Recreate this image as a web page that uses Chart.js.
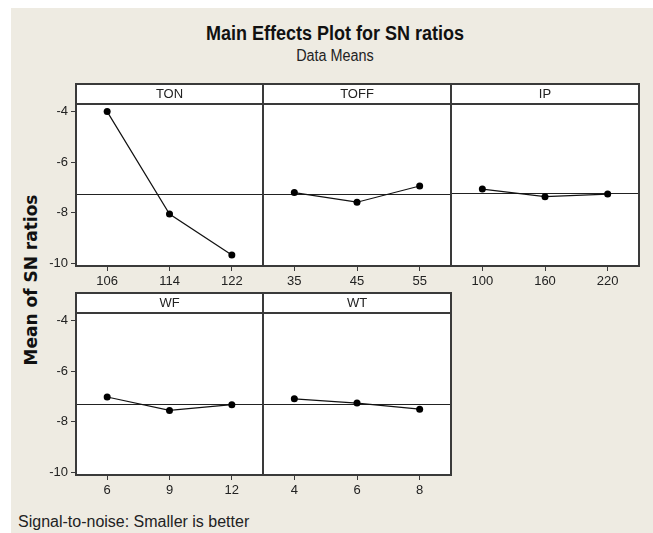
<!DOCTYPE html>
<html><head><meta charset="utf-8">
<script src="https://cdn.jsdelivr.net/npm/chart.js@4.4.1/dist/chart.umd.min.js"></script>
<style>
html,body{margin:0;padding:0;background:#fff;}
#page{position:relative;width:653px;height:533px;overflow:hidden;background:#fff;}
#bg{position:absolute;left:11px;top:8px;right:0;bottom:0;background:#EEEBE2;}
canvas{position:absolute;}
.t{position:absolute;white-space:nowrap;color:#111;font-family:'Liberation Sans',Arial,sans-serif;}
</style></head><body>
<div id="page"><div id="bg"></div>
<div class="t" style="left:135px;width:400px;top:23px;text-align:center;font-size:20px;line-height:20px;font-weight:bold;transform:scaleX(0.9);">Main Effects Plot for SN ratios</div>
<div class="t" style="left:235px;width:200px;top:48px;text-align:center;font-size:16px;line-height:16px;transform:scaleX(0.9);color:#222;">Data Means</div>
<div class="t" style="left:-79px;top:270px;width:220px;height:20px;line-height:20px;text-align:center;font-family:'DejaVu Sans',sans-serif;font-weight:bold;font-size:17px;transform:rotate(-90deg);">Mean of SN ratios</div>
<div class="t" style="left:18px;top:514px;font-size:16px;line-height:16px;color:#222;">Signal-to-noise: Smaller is better</div>
</div>
<script>
// ---- data ----
const tonLevels  = ['106', '114', '122'];
const tonSN      = [-4.00, -8.05, -9.67];
const toffLevels = ['35', '45', '55'];
const toffSN     = [-7.20, -7.58, -6.94];
const ipLevels   = ['100', '160', '220'];
const ipSN       = [-7.06, -7.36, -7.26];
const wfLevels   = ['6', '9', '12'];
const wfSN       = [-7.02, -7.55, -7.32];
const wtLevels   = ['4', '6', '8'];
const wtSN       = [-7.09, -7.26, -7.50];
const yTickValues = [-10, -8, -6, -4];
const Y_MIN = -10.1, Y_MAX = -3.7;

// ---- layout ----
const HEADER = 20, PLOT_H = 162, XAXIS_H = 30, YAXIS_W = 46, PAD = 3;
const FRAME = '#3a3a3a';
const tickFont = {family: "'Liberation Sans',Arial,sans-serif", size: 13};

function box(a) {
  return {L: Math.round(a.left), R: Math.round(a.right), T: Math.round(a.top), B: Math.round(a.bottom)};
}

const panelPlugin = {
  id: 'panel',
  beforeDraw(chart) {
    const {ctx} = chart;
    const b = box(chart.chartArea);
    ctx.save();
    ctx.fillStyle = '#fff';
    ctx.fillRect(b.L, b.T - HEADER, b.R - b.L, b.B - b.T + HEADER);
    ctx.restore();
  },
  beforeDatasetsDraw(chart) {
    const {ctx} = chart;
    const b = box(chart.chartArea);
    const vals = chart.data.datasets[0].data;
    const mean = vals.reduce((s, v) => s + v, 0) / vals.length;
    const y = Math.round(chart.scales.y.getPixelForValue(mean)) + 0.5;
    ctx.save();
    ctx.strokeStyle = '#222';
    ctx.lineWidth = 1;
    ctx.beginPath(); ctx.moveTo(b.L, y); ctx.lineTo(b.R, y); ctx.stroke();
    ctx.restore();
  },
  afterDraw(chart, args, opts) {
    const {ctx} = chart;
    const b = box(chart.chartArea);
    ctx.save();
    ctx.strokeStyle = FRAME;
    ctx.lineWidth = 2;
    ctx.strokeRect(b.L, b.T - HEADER, b.R - b.L, b.B - b.T + HEADER);
    ctx.beginPath(); ctx.moveTo(b.L, b.T); ctx.lineTo(b.R, b.T); ctx.stroke();
    ctx.fillStyle = '#222';
    ctx.font = "13px 'Liberation Sans', Arial, sans-serif";
    ctx.textAlign = 'center';
    ctx.textBaseline = 'middle';
    ctx.fillText(opts.label, (b.L + b.R) / 2, b.T - HEADER / 2 + 0.5);
    ctx.restore();
  }
};

function panel(pageLeft, pageTop, plotW, label, levels, values, showY) {
  const cv = document.createElement('canvas');
  const leftExtra = showY ? YAXIS_W : PAD;
  let W = leftExtra + plotW + PAD;
  let H = PAD + HEADER + PLOT_H + XAXIS_H;
  cv.width = W; cv.height = H;
  cv.style.width = W + 'px'; cv.style.height = H + 'px';
  cv.style.left = (pageLeft - leftExtra) + 'px';
  cv.style.top = (pageTop - PAD) + 'px';
  document.getElementById('page').appendChild(cv);
  const yScale = {
    display: showY, min: Y_MIN, max: Y_MAX,
    afterBuildTicks(s) { s.ticks = yTickValues.map(v => ({value: v})); },
    grid: {drawOnChartArea: false, drawTicks: true, tickLength: 5, color: FRAME, lineWidth: 1},
    border: {display: false},
    ticks: {font: tickFont, color: '#222', padding: 3},
    afterFit(s) {
      if (showY) s.width = YAXIS_W;
      s.paddingTop = 0; s.paddingBottom = 0;
    }
  };
  const chart = new Chart(cv, {
    type: 'line',
    data: {labels: levels, datasets: [{
      data: values, borderColor: '#111', borderWidth: 1.2, tension: 0,
      pointRadius: 3.5, pointBackgroundColor: '#000', pointBorderWidth: 0
    }]},
    options: {
      responsive: false, maintainAspectRatio: false, animation: false, devicePixelRatio: 1,
      layout: {padding: {top: PAD + HEADER, left: showY ? 0 : PAD, right: PAD, bottom: 0}},
      plugins: {legend: {display: false}, tooltip: {enabled: false}, panel: {label}},
      scales: {
        x: {
          type: 'category', offset: true,
          grid: {drawOnChartArea: false, drawTicks: true, tickLength: 5, color: FRAME, lineWidth: 1},
          border: {display: false},
          ticks: {font: tickFont, color: '#222', padding: 3, maxRotation: 0, autoSkip: false},
          afterFit(s) { s.height = XAXIS_H; s.paddingLeft = 0; s.paddingRight = 0; }
        },
        y: yScale
      }
    },
    plugins: [panelPlugin]
  });
  // make the plot area land exactly on the panel box of the reference
  for (let i = 0; i < 4; i++) {
    const b = box(chart.chartArea);
    const dw = plotW - (b.R - b.L);
    const dh = PLOT_H - (b.B - b.T);
    if (dw === 0 && dh === 0) break;
    W += dw; H += dh;
    cv.style.width = W + 'px'; cv.style.height = H + 'px';
    chart.resize(W, H);
  }
  const b = box(chart.chartArea);
  cv.style.left = (pageLeft - b.L) + 'px';
  cv.style.top = (pageTop + HEADER - b.T) + 'px';
}

panel(76, 84, 187, 'TON', tonLevels, tonSN, true);
panel(263, 84, 188, 'TOFF', toffLevels, toffSN, false);
panel(451, 84, 188, 'IP', ipLevels, ipSN, false);
panel(76, 293, 187, 'WF', wfLevels, wfSN, true);
panel(263, 293, 188, 'WT', wtLevels, wtSN, false);
</script>
</body></html>
